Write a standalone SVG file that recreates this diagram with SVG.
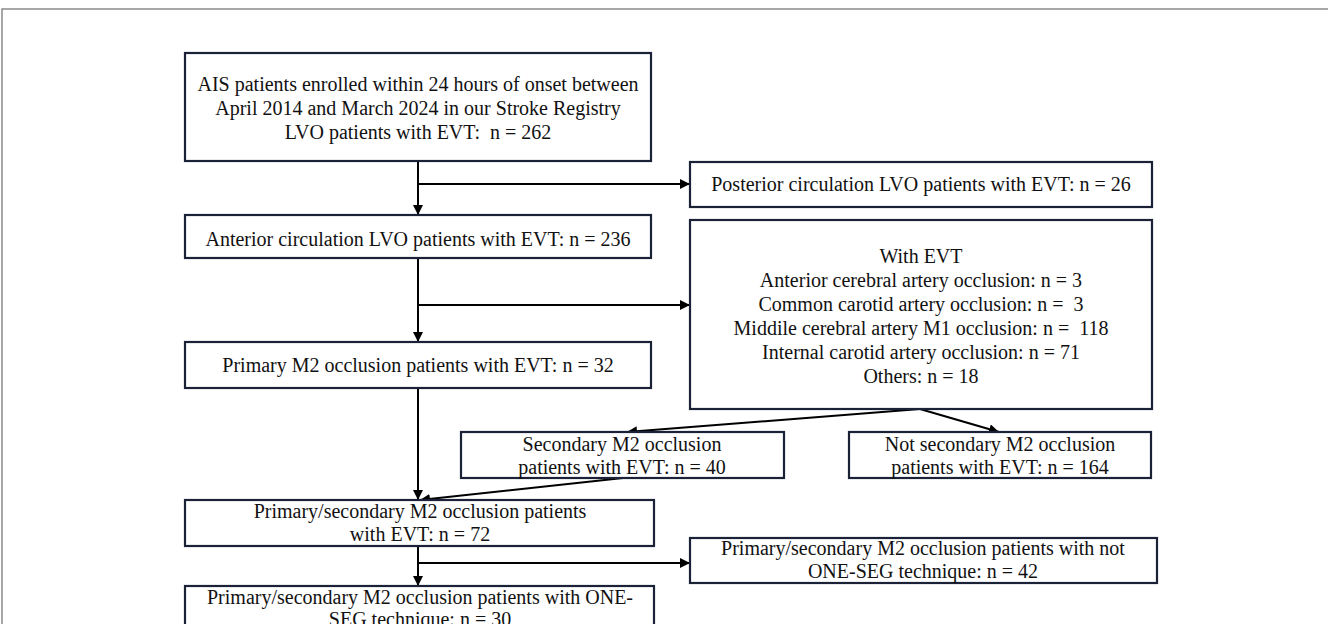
<svg xmlns="http://www.w3.org/2000/svg" width="1328" height="624" viewBox="0 0 1328 624">
<defs>
<marker id="ah" viewBox="0 0 10 10" refX="10" refY="5" markerWidth="5" markerHeight="5" orient="auto" markerUnits="strokeWidth">
<path d="M0,0 L10,5 L0,10 z" fill="#000"/>
</marker>
<style>
.box{fill:#fff;stroke:#1b2238;stroke-width:2.2}
.t{font-family:"Liberation Serif","Times New Roman",serif;font-size:20px;fill:#111;text-anchor:middle}
.c{stroke:#000;stroke-width:2;fill:none}
.a{marker-end:url(#ah)}
</style>
</defs>
<rect width="1328" height="624" fill="#fff"/>
<path d="M2,624 L2,9 L1328,9" fill="none" stroke="#8a8a8a" stroke-width="1.5"/>
<g id="connectors">
<line class="c a" x1="418" y1="161" x2="418" y2="215"/>
<line class="c a" x1="418" y1="184" x2="690" y2="184"/>
<line class="c a" x1="418" y1="258" x2="418" y2="342"/>
<line class="c a" x1="418" y1="305" x2="690" y2="305"/>
<line class="c a" x1="418" y1="388" x2="418" y2="500"/>
<line class="c a" x1="920" y1="409" x2="627" y2="432"/>
<line class="c a" x1="920" y1="409" x2="999" y2="432"/>
<line class="c a" x1="623" y1="478" x2="420" y2="500"/>
<line class="c a" x1="418" y1="546" x2="418" y2="586"/>
<line class="c a" x1="418" y1="563" x2="690" y2="563"/>
</g>
<g id="n1">
<rect class="box" x="185" y="53" width="466" height="108"/>
<text class="t" x="418" y="91">AIS patients enrolled within 24 hours of onset between</text>
<text class="t" x="418" y="115">April 2014 and March 2024 in our Stroke Registry</text>
<text class="t" x="418" y="139" xml:space="preserve">LVO patients with EVT:  n = 262</text>
</g>
<g id="n2">
<rect class="box" x="690" y="162" width="462" height="45"/>
<text class="t" x="921" y="191">Posterior circulation LVO patients with EVT: n = 26</text>
</g>
<g id="n3">
<rect class="box" x="185" y="215" width="466" height="43"/>
<text class="t" x="418" y="246">Anterior circulation LVO patients with EVT: n = 236</text>
</g>
<g id="n4">
<rect class="box" x="690" y="220" width="462" height="189"/>
<text class="t" x="921" y="263">With EVT</text>
<text class="t" x="921" y="287">Anterior cerebral artery occlusion: n = 3</text>
<text class="t" x="921" y="311" xml:space="preserve">Common carotid artery occlusion: n =  3</text>
<text class="t" x="921" y="335" xml:space="preserve">Middile cerebral artery M1 occlusion: n =  118</text>
<text class="t" x="921" y="359">Internal carotid artery occlusion: n = 71</text>
<text class="t" x="921" y="383">Others: n = 18</text>
</g>
<g id="n5">
<rect class="box" x="185" y="342" width="466" height="46"/>
<text class="t" x="418" y="372">Primary M2 occlusion patients with EVT: n = 32</text>
</g>
<g id="n6">
<rect class="box" x="461" y="432" width="323" height="46"/>
<text class="t" x="622" y="451">Secondary M2 occlusion</text>
<text class="t" x="622" y="474">patients with EVT: n = 40</text>
</g>
<g id="n7">
<rect class="box" x="849" y="432" width="302" height="46"/>
<text class="t" x="1000" y="451">Not secondary M2 occlusion</text>
<text class="t" x="1000" y="474">patients with EVT: n = 164</text>
</g>
<g id="n8">
<rect class="box" x="185" y="500" width="469" height="46"/>
<text class="t" x="420" y="518">Primary/secondary M2 occlusion patients</text>
<text class="t" x="420" y="541">with EVT: n = 72</text>
</g>
<g id="n9">
<rect class="box" x="690" y="538" width="467" height="45"/>
<text class="t" x="923" y="555">Primary/secondary M2 occlusion patients with not</text>
<text class="t" x="923" y="578">ONE-SEG technique: n = 42</text>
</g>
<g id="n10">
<rect class="box" x="185" y="586" width="469" height="46"/>
<text class="t" x="420" y="604">Primary/secondary M2 occlusion patients with ONE-</text>
<text class="t" x="420" y="626">SEG technique: n = 30</text>
</g>
</svg>
